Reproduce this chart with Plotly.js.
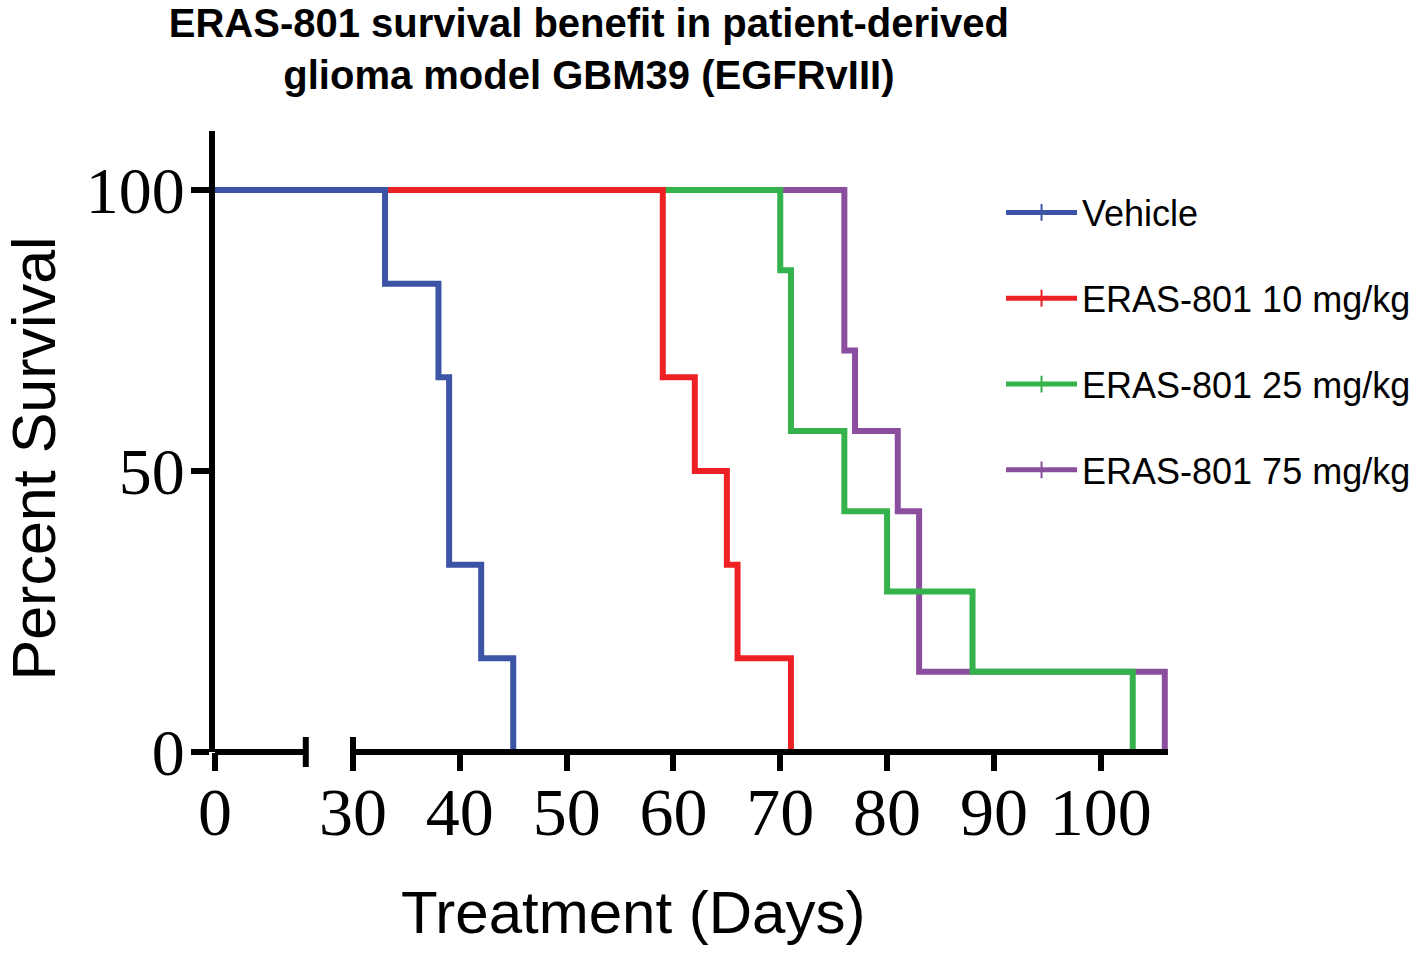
<!DOCTYPE html>
<html>
<head>
<meta charset="utf-8">
<script src="https://cdn.plot.ly/plotly-3.0.1.min.js"></script>
<style>html,body{margin:0;padding:0;background:#fff;}#chart{width:1419px;height:956px;}</style>
</head>
<body>
<div id="chart"></div>
<script>
// ---- data (days, percent survival at each step) ----
const seriesNames = ['Vehicle', 'ERAS-801 10 mg/kg', 'ERAS-801 25 mg/kg', 'ERAS-801 75 mg/kg'];
const vehicleDays = [0, 33, 38, 39, 42, 45];
const vehicleSurv = [100, 83.33, 66.67, 33.33, 16.67, 0];
const mg10Days = [0, 59, 62, 65, 66, 71];
const mg10Surv = [100, 66.67, 50, 33.33, 16.67, 0];
const mg25Days = [0, 70, 71, 76, 80, 88, 103];
const mg25Surv = [100, 85.71, 57.14, 42.86, 28.57, 14.29, 0];
const mg75Days = [0, 76, 77, 81, 83, 106];
const mg75Surv = [100, 71.43, 57.14, 42.86, 14.29, 0];
const xTickDays = [0, 30, 40, 50, 60, 70, 80, 90, 100];
const xTickLabels = ['0', '30', '40', '50', '60', '70', '80', '90', '100'];
const yTickVals = [0, 50, 100];
const yTickLabels = ['0', '50', '100'];

// ---- broken x axis (0..BREAK_FROM, gap, BREAK_TO..X_END) ----
const BREAK_FROM = 8.5, BREAK_TO = 30, GAP = 4.42, X_END = 106.3;
function brk(d) { return d <= BREAK_FROM ? d : d - BREAK_TO + BREAK_FROM + GAP; }
const XR = brk(X_END);
function paperX(d) { return brk(d) / XR; }

const colors = ['#3B54A5', '#ED2124', '#34B24B', '#8B4E9E'];
const daysList = [vehicleDays, mg10Days, mg25Days, mg75Days];
const survList = [vehicleSurv, mg10Surv, mg25Surv, mg75Surv];

// draw order: 75 mg/kg first so Vehicle lies on top (as in the original)
const traces = [];
for (let i = 3; i >= 0; i--) {
  traces.push({
    type: 'scatter',
    mode: 'lines+markers',
    name: seriesNames[i],
    legendgroup: 'g' + i,
    legendrank: i + 1,
    x: daysList[i].map(brk),
    y: survList[i],
    customdata: daysList[i],
    hovertemplate: 'Day %{customdata}<br>%{y:.1f}%<extra>' + seriesNames[i] + '</extra>',
    line: {shape: 'hv', color: colors[i], width: 6},
    marker: {symbol: 'line-ns-open', size: 0.01, color: colors[i], line: {width: 5, color: colors[i]}}
  });
}

const axisLine = {color: '#000', width: 6};
const shapes = [
  {type: 'line', xref: 'paper', yref: 'paper', x0: paperX(0), x1: paperX(BREAK_FROM), y0: 0, y1: 0, line: axisLine},
  {type: 'line', xref: 'paper', yref: 'paper', x0: paperX(BREAK_TO), x1: 1, y0: 0, y1: 0, line: axisLine},
  {type: 'line', xref: 'paper', yref: 'paper', ysizemode: 'pixel', yanchor: 0, x0: paperX(BREAK_FROM), x1: paperX(BREAK_FROM), y0: -15, y1: 15, line: axisLine},
  {type: 'line', xref: 'paper', yref: 'paper', ysizemode: 'pixel', yanchor: 0, x0: paperX(BREAK_TO), x1: paperX(BREAK_TO), y0: -15, y1: 15, line: axisLine}
];

const layout = {
  width: 1419, height: 956,
  paper_bgcolor: '#fff', plot_bgcolor: '#fff',
  margin: {l: 215, r: 251, t: 131, b: 204, autoexpand: false},
  showlegend: true,
  title: {
    text: 'ERAS-801 survival benefit in patient-derived<br>glioma model GBM39 (EGFRvIII)',
    font: {family: 'Liberation Sans, Arial, sans-serif', size: 40, color: '#000', weight: 'bold'},
    xref: 'container', x: 0.415, xanchor: 'center',
    yref: 'container', y: 0.9615, yanchor: 'middle'
  },
  xaxis: {
    range: [0, XR],
    showline: false, showgrid: false, zeroline: false,
    tickmode: 'array', tickvals: xTickDays.map(brk), ticktext: xTickLabels,
    ticks: 'outside', ticklen: 18, tickwidth: 6, tickcolor: '#000',
    ticklabelstandoff: -18,
    tickfont: {family: 'Liberation Serif, Times New Roman, serif', size: 68, color: '#000'},
    title: {text: 'Treatment (Days)' + '\u00a0'.repeat(7) + '\u200b', standoff: 42,
            font: {family: 'Liberation Sans, Arial, sans-serif', size: 60, color: '#000'}},
    fixedrange: true
  },
  yaxis: {
    range: [0, 110.5],
    showline: true, linewidth: 6, linecolor: '#000',
    showgrid: false, zeroline: false,
    tickmode: 'array', tickvals: yTickVals, ticktext: yTickLabels,
    ticks: 'outside', ticklen: 18, tickwidth: 6, tickcolor: '#000',
    ticklabelstandoff: -7,
    tickfont: {family: 'Liberation Serif, Times New Roman, serif', size: 66, color: '#000'},
    title: {text: 'Percent Survival' + '\u00a0'.repeat(2) + '\u200b', standoff: 22,
            font: {family: 'Liberation Sans, Arial, sans-serif', size: 61, color: '#000'}},
    fixedrange: true
  },
  legend: {
    x: 0.8248, xanchor: 'left', y: 0.917, yanchor: 'top',
    traceorder: 'grouped', tracegroupgap: 36,
    itemsizing: 'constant', itemwidth: 71,
    font: {family: 'Liberation Sans, Arial, sans-serif', size: 36, color: '#000'},
    bgcolor: 'rgba(0,0,0,0)'
  },
  shapes: shapes
};

Plotly.newPlot('chart', traces, layout, {displayModeBar: false, responsive: false});
</script>
</body>
</html>
